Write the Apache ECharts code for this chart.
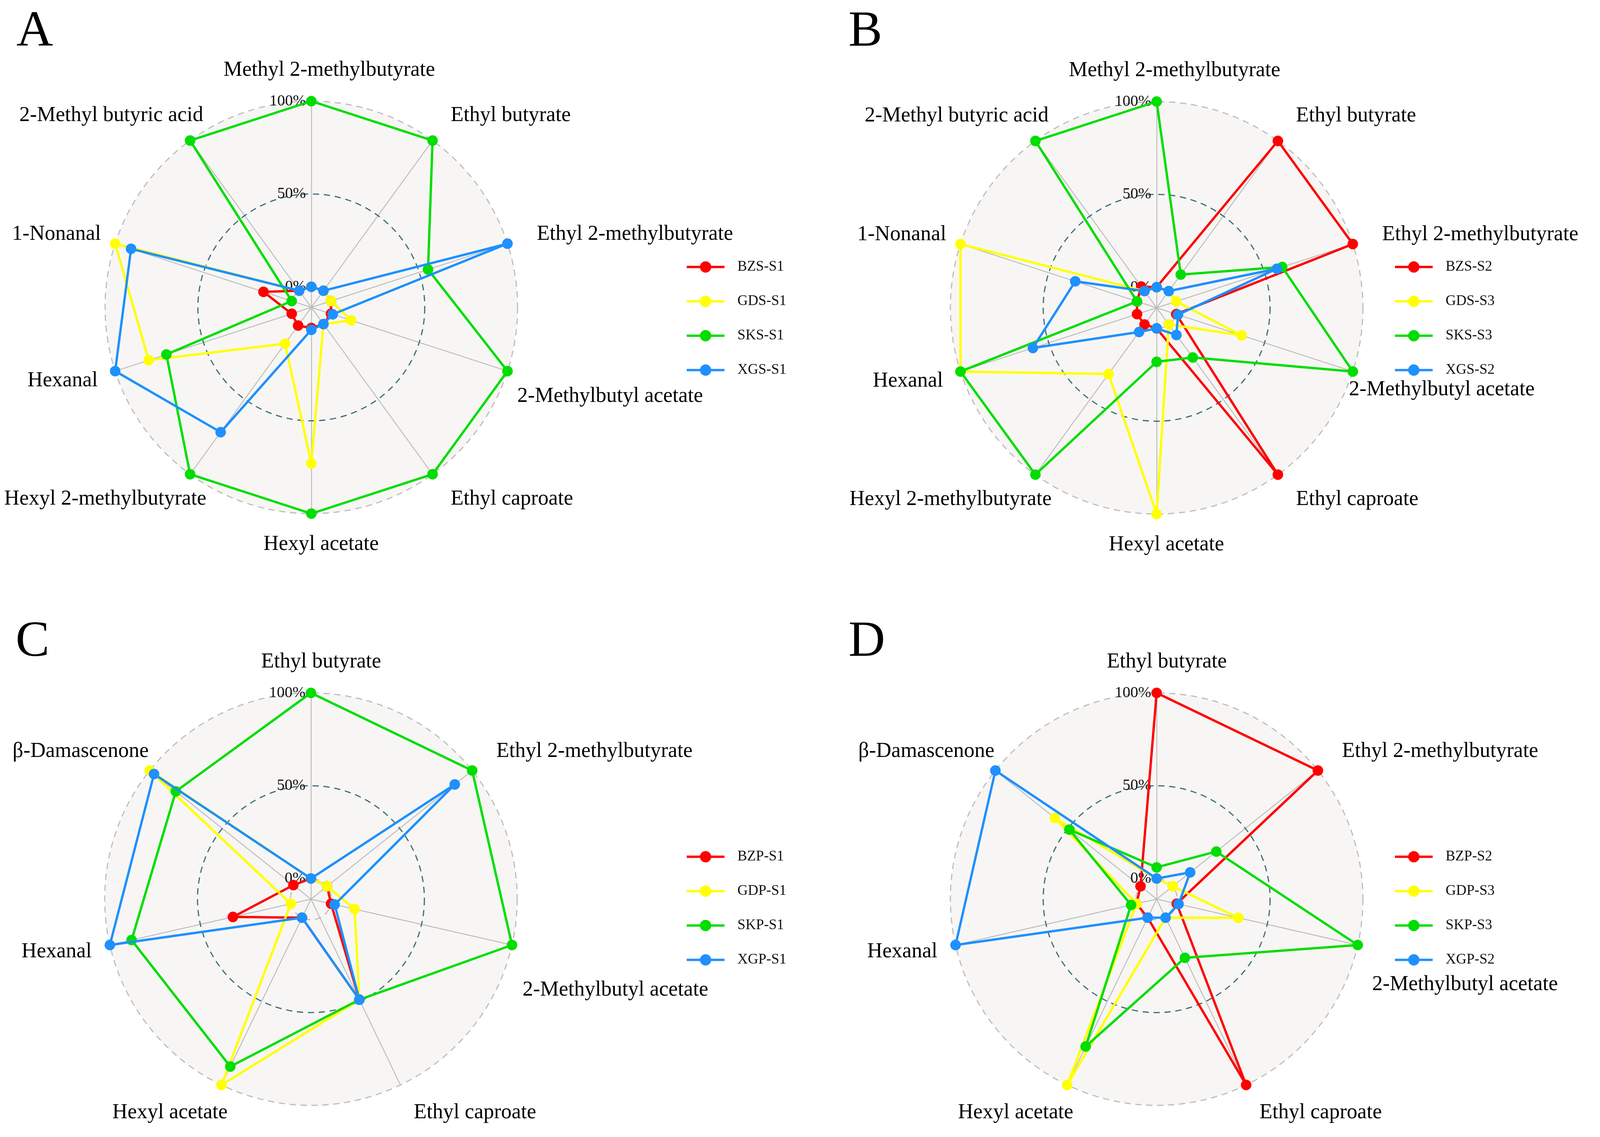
<!DOCTYPE html>
<html><head><meta charset="utf-8">
<script src="https://cdn.jsdelivr.net/npm/echarts@6/dist/echarts.min.js"></script>
<style>html,body{margin:0;padding:0;background:#fff}#c{width:4198px;height:2911px}</style>
</head><body><div id="c"></div>
<script>
// ---------- DATA ----------
const catsAB = ['Methyl 2-methylbutyrate','Ethyl butyrate','Ethyl 2-methylbutyrate','2-Methylbutyl acetate','Ethyl caproate','Hexyl acetate','Hexyl 2-methylbutyrate','Hexanal','1-Nonanal','2-Methyl butyric acid'];
const catsCD = ['Ethyl butyrate','Ethyl 2-methylbutyrate','2-Methylbutyl acetate','Ethyl caproate','Hexyl acetate','Hexanal','β-Damascenone'];
const gridLabelValues = [0, 50, 100];
const gridRingValues = [0, 50];

const namesA = ['BZS-S1','GDS-S1','SKS-S1','XGS-S1'];
const A_BZS_S1 = [0, 0, 0, 0, 0, 0, 1, 0, 16, 0];
const A_GDS_S1 = [0, 0, 0, 11.5, 0, 73, 13, 81, 100, 0];
const A_SKS_S1 = [100, 100, 55, 100, 100, 100, 100, 71, 0, 100];
const A_XGS_S1 = [0, 0, 100, 1, 0, 1, 72, 100, 91, 0];

const namesB = ['BZS-S2','GDS-S3','SKS-S3','XGS-S2'];
const B_BZS_S2 = [0, 100, 100, 0, 100, 0, 0, 0, 0, 3];
const B_GDS_S3 = [0, 0, 0, 37, 0, 100, 33, 100, 100, 0];
const B_SKS_S3 = [100, 11, 60, 100, 22, 18, 100, 100, 0, 100];
const B_XGS_S2 = [0, 0, 57, 1, 7, 0, 5, 59, 35, 0];

const namesC = ['BZP-S1','GDP-S1','SKP-S1','XGP-S1'];
const C_BZP_S1 = [0, 0, 0, 49, 0, 32, 1];
const C_GDP_S1 = [0, 0, 13, 49, 100, 0, 100];
const C_SKP_S1 = [100, 100, 100, 49, 89, 88, 82];
const C_XGP_S1 = [0, 88, 2, 49, 0, 100, 97];

const namesD = ['BZP-S2','GDP-S3','SKP-S3','XGP-S2'];
const D_BZP_S2 = [100, 100, 0, 100, 0, 0, 0];
const D_GDP_S3 = [0, 0, 34, 0, 100, 0, 59];
const D_SKP_S3 = [6, 30, 100, 24, 77, 3, 49];
const D_XGP_S2 = [0, 12, 1, 0, 0, 100, 100];

const panelLetters = ['A','B','C','D'];

// ---------- STYLE / LAYOUT ----------
const COLORS = ['#FF0000', '#FFFF00', '#00DD00', '#1E90FF'];
const FONT = '"Liberation Serif", "Times New Roman", serif';
const NAME_SIZE = 54;
const MIN = -100 / 9;   // centre offset (0% sits at 10% of radius)
const R = 528;
// nudge of the "2-Methylbutyl acetate" label (left shift, down shift) per panel, in px
const panels = [
  {cats: catsAB, names: namesA, vals: [A_BZS_S1, A_GDS_S1, A_SKS_S1, A_XGS_S1], cx: 797, cy: 787, lx: 1753, ly: 660, tx: 42, ty: 18, nudge: [50, 40]},
  {cats: catsAB, names: namesB, vals: [B_BZS_S2, B_GDS_S3, B_SKS_S3, B_XGS_S2], cx: 2961, cy: 788, lx: 3566, ly: 660, tx: 2172, ty: 18, nudge: [85, 22]},
  {cats: catsCD, names: namesC, vals: [C_BZP_S1, C_GDP_S1, C_SKP_S1, C_XGP_S1], cx: 796, cy: 2302, lx: 1753, ly: 2170, tx: 40, ty: 1580, nudge: [50, 98]},
  {cats: catsCD, names: namesD, vals: [D_BZP_S2, D_GDP_S3, D_SKP_S3, D_XGP_S2], cx: 2961, cy: 2302, lx: 3566, ly: 2170, tx: 2172, ty: 1580, nudge: [40, 84]}
];

// clockwise layout: ECharts radar goes counter-clockwise, so reverse after the first axis
function cwOrder(n) { const o = [0]; for (let i = n - 1; i >= 1; i--) o.push(i); return o; }

const mctx = document.createElement('canvas').getContext('2d');
function textWidth(s, size) { mctx.font = size + 'px ' + FONT; return mctx.measureText(s).width; }

const ICON = 'path://M0,12H100V18H0Z M35,15A15,15 0 1,1 65,15A15,15 0 1,1 35,15Z';

const radar = [], polar = [], angleAxis = [], radiusAxis = [], series = [], legend = [], graphic = [];
panels.forEach((p, pi) => {
  const order = cwOrder(p.cats.length);
  const rich = {};
  const keyOf = {};
  p.cats.forEach((nm, ci) => {
    const w = textWidth(nm, NAME_SIZE);
    const base = {fontFamily: FONT, fontSize: NAME_SIZE, color: '#000'};
    if (nm === '2-Methylbutyl acetate') {
      rich['t' + ci] = Object.assign(base, {align: 'right', width: w - p.nudge[0], padding: [2 * p.nudge[1], 0, 0, 0]});
    } else {
      rich['t' + ci] = Object.assign(base, {align: 'left', width: 0.83 * w});
    }
    keyOf[nm] = 't' + ci;
  });
  radar.push({
    center: [p.cx, p.cy], radius: R, startAngle: 90, shape: 'circle', splitNumber: 1, z: 0,
    indicator: order.map(i => ({name: p.cats[i], min: MIN, max: 100})),
    nameGap: 79,
    axisName: {color: '#000', fontFamily: FONT, fontSize: NAME_SIZE, verticalAlign: 'middle',
      formatter: nm => '{' + keyOf[nm] + '|' + nm + '}', rich},
    axisLine: {lineStyle: {color: '#BEBEBE', width: 2.5}},
    axisTick: {show: false}, axisLabel: {show: false},
    splitLine: {lineStyle: {color: '#BEBEBE', width: 3, type: [16, 12]}},
    splitArea: {areaStyle: {color: ['#F7F6F4']}}
  });
  polar.push({center: [p.cx, p.cy], radius: R});
  angleAxis.push({polarIndex: pi, type: 'value', min: 0, max: 360, show: false});
  radiusAxis.push({
    polarIndex: pi, type: 'value', min: MIN, max: 100, z: 1,
    axisLine: {show: false},
    axisTick: {show: false, customValues: gridRingValues},
    axisLabel: {customValues: gridLabelValues, formatter: v => Math.round(v) + '%', fontFamily: FONT, fontSize: 40, color: '#111', margin: 14},
    splitLine: {show: true, lineStyle: {color: ['#BEBEBE', '#3E6E78'], width: 3, type: [16, 12]}}
  });
  p.names.forEach((nm, si) => {
    series.push({
      type: 'radar', name: nm, radarIndex: pi, z: 2 + si,
      symbol: 'circle', symbolSize: 27,
      lineStyle: {color: COLORS[si], width: 6},
      itemStyle: {color: COLORS[si]},
      data: [{name: nm, value: order.map(i => p.vals[si][i])}]
    });
  });
  legend.push({
    data: p.names, orient: 'vertical', left: p.lx, top: p.ly, icon: ICON,
    itemWidth: 97, itemHeight: 29, itemGap: 51, selectedMode: false,
    textStyle: {fontFamily: FONT, fontSize: 37, color: '#111', padding: [0, 0, 0, 28], lineHeight: 29}
  });
  graphic.push({type: 'text', left: p.tx, top: p.ty, style: {text: panelLetters[pi], font: '130px ' + FONT, fill: '#000'}});
});

const chart = echarts.init(document.getElementById('c'), null, {renderer: 'canvas'});
chart.setOption({
  backgroundColor: '#FFFFFF', animation: false,
  radar, polar, angleAxis, radiusAxis, series, legend, graphic
});
</script></body></html>
